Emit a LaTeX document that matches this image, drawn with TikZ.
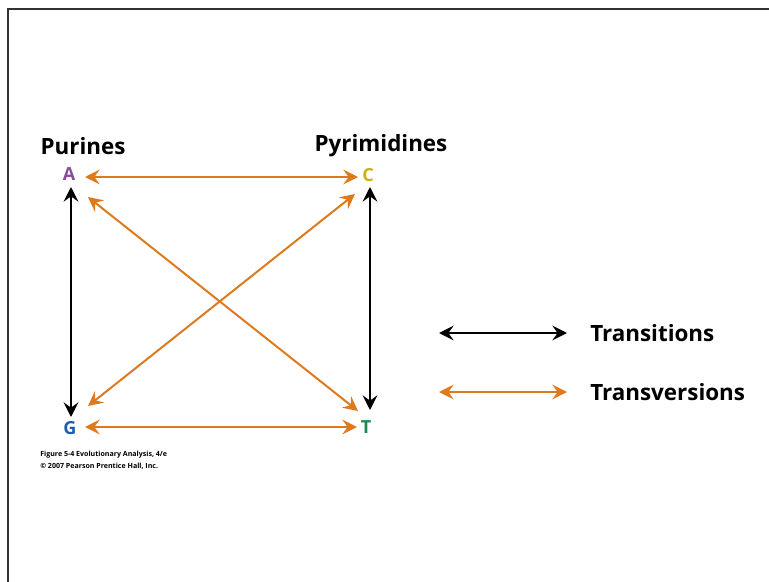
\documentclass[tikz,border=0pt]{standalone}
\usepackage{fontspec}
\setmainfont{Open Sans}
\usetikzlibrary{arrows.meta}
\definecolor{orng}{HTML}{DE7A1E}
\definecolor{purp}{HTML}{8A4A9E}
\definecolor{yell}{HTML}{C9B20E}
\definecolor{blu}{HTML}{1F5DAA}
\definecolor{grn}{HTML}{1C8A4E}
\begin{document}
\begin{tikzpicture}[x=0.75pt,y=-0.75pt,
  trans/.style={black,line width=1.5pt,{Stealth[length=11pt,width=11pt,inset=4pt]}-{Stealth[length=11pt,width=11pt,inset=4pt]}},
  transv/.style={orng,line width=1.5pt,{Stealth[length=11pt,width=11pt,inset=4pt]}-{Stealth[length=11pt,width=11pt,inset=4pt]}},
  base/.style={font=\bfseries\fontsize{13.5}{13.5}\selectfont,inner sep=1pt},
  lab/.style={font=\bfseries\fontsize{16.8}{18}\selectfont,inner sep=0pt},
  captxt/.style={font=\fontsize{5.3}{6}\selectfont,inner sep=0pt,anchor=west}]
\useasboundingbox (0,0) rectangle (769,582);
\draw[line width=1.4pt,black!80] (8,582) -- (8,9) -- (769,9);
\node[lab] (pur) at (83,146) {Purines};
\node[lab] (pyr) at (381,146) {Pyrimidines};
\node[base,text=purp] (A) at (69,174) {A};
\node[base,text=yell] (C) at (368,175) {C};
\node[base,text=blu] (G) at (70,428) {G};
\node[base,text=grn] (T) at (366,427) {T};
% endpoints near the letters
\coordinate (As) at (71,187);
\coordinate (Gn) at (71,417);
\coordinate (Cs) at (370,187);
\coordinate (Tn) at (370,410);
\coordinate (Ae) at (85,177);
\coordinate (Cw) at (358,177);
\coordinate (Ge) at (85,427);
\coordinate (Tw) at (357,427);
\coordinate (Ase) at (88,197);
\coordinate (Tnw) at (358,411);
\coordinate (Gne) at (88,406);
\coordinate (Csw) at (355,194);
\draw[trans] (As) -- (Gn);
\draw[trans] (Cs) -- (Tn);
\draw[transv] (Ae) -- (Cw);
\draw[transv] (Ge) -- (Tw);
\draw[transv] (Ase) -- (Tnw);
\draw[transv] (Gne) -- (Csw);
% legend
\coordinate (l1a) at (439,333);
\coordinate (l1b) at (567,333);
\coordinate (l2a) at (439,392);
\coordinate (l2b) at (567,392);
\draw[trans] (l1a) -- (l1b);
\draw[transv] (l2a) -- (l2b);
\node[lab,anchor=west] (tr) at (590,333) {Transitions};
\node[lab,anchor=west] (tv) at (590,392) {Transversions};
% caption
\node[captxt] (c1) at (40,455) {\bfseries Figure 5-4 Evolutionary Analysis, 4/e};
\node[captxt] (c2) at (40,466) {\bfseries\textcopyright\ 2007 Pearson Prentice Hall, Inc.};
\end{tikzpicture}
\end{document}
